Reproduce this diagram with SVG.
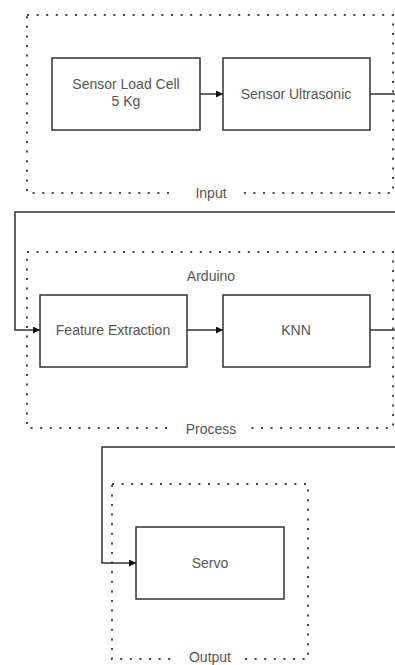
<svg xmlns="http://www.w3.org/2000/svg" width="395" height="665" viewBox="0 0 395 665">
<defs>
<style>
.grp{fill:none;stroke:#444;stroke-width:2;stroke-dasharray:2 7.6}
.box{fill:#fff;stroke:#333;stroke-width:1.5}
.t{font-family:"Liberation Sans",Arial,sans-serif;font-size:14px;fill:#555;text-anchor:middle}
.c{fill:none;stroke:#333;stroke-width:1.5}
.bg{fill:#fff}
</style>
<marker id="ah" viewBox="0 0 10 10" refX="10" refY="5" markerWidth="7" markerHeight="7" markerUnits="userSpaceOnUse" orient="auto">
<path d="M0,0 L10,5 L0,10 Z" fill="#111"/>
</marker>
</defs>
<rect width="395" height="665" fill="#fff"/>
<g id="input">
<rect class="grp" x="27" y="15" width="366" height="178"/>
<rect class="bg" x="170" y="185" width="74" height="16"/>
<text class="t" x="211" y="198">Input</text>
</g>
<g id="process">
<rect class="grp" x="27" y="252" width="366" height="176"/>
<rect class="bg" x="170" y="420" width="76" height="16"/>
<text class="t" x="211" y="434">Process</text>
<text class="t" x="211" y="281">Arduino</text>
</g>
<g id="output">
<rect class="grp" x="112" y="484" width="196" height="175"/>
<rect class="bg" x="176" y="651" width="68" height="14"/>
<text class="t" x="210" y="662">Output</text>
</g>
<g id="loadcell">
<rect class="box" x="52" y="58" width="148" height="72"/>
<text class="t" x="126" y="89">Sensor Load Cell</text>
<text class="t" x="126" y="106">5 Kg</text>
</g>
<g id="ultrasonic">
<rect class="box" x="223" y="58" width="147" height="72"/>
<text class="t" x="296" y="99">Sensor Ultrasonic</text>
</g>
<g id="feature">
<rect class="box" x="40" y="295" width="147" height="72"/>
<text class="t" x="113" y="335">Feature Extraction</text>
</g>
<g id="knn">
<rect class="box" x="223" y="295" width="147" height="72"/>
<text class="t" x="296" y="335">KNN</text>
</g>
<g id="servo">
<rect class="box" x="136" y="527" width="148" height="72"/>
<text class="t" x="210" y="568">Servo</text>
</g>
<g id="connectors">
<path class="c" d="M200,94 L223,94" marker-end="url(#ah)"/>
<path class="c" d="M370,94 L402,94 L402,212 L15,212 L15,330 L40,330" marker-end="url(#ah)"/>
<path class="c" d="M187,330 L223,330" marker-end="url(#ah)"/>
<path class="c" d="M370,330 L402,330 L402,447 L102,447 L102,563 L136,563" marker-end="url(#ah)"/>
</g>
</svg>
